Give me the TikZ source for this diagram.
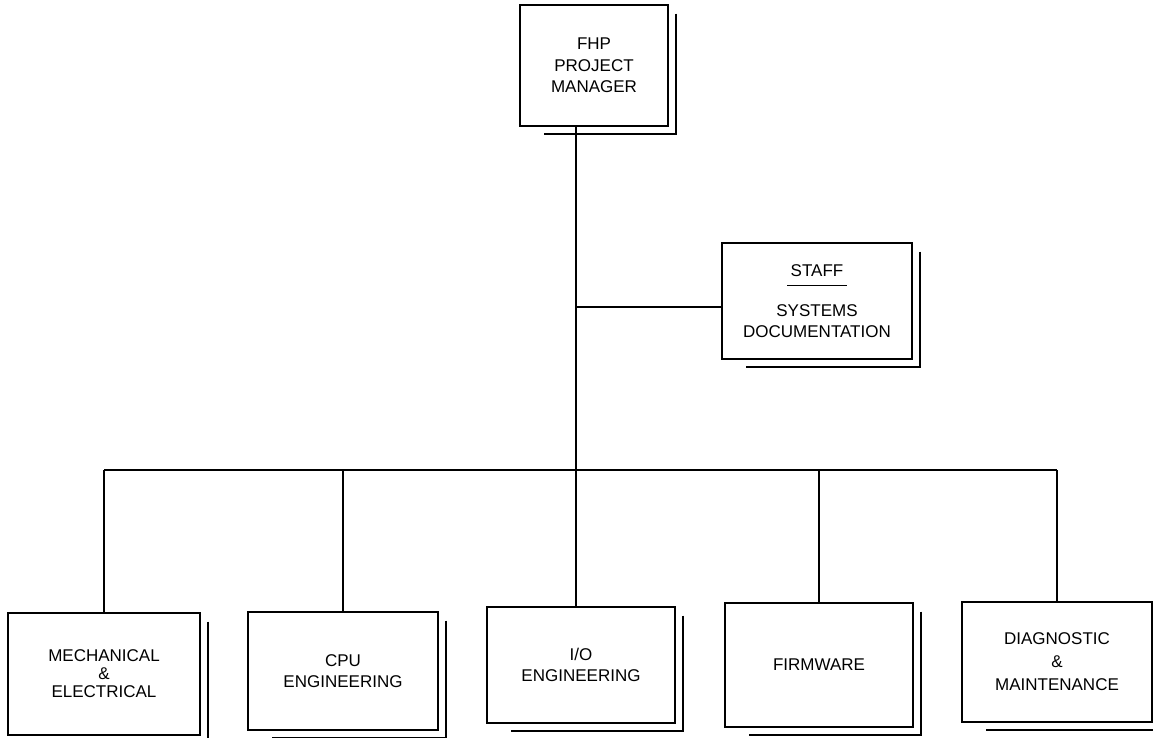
\documentclass[tikz,border=0pt]{standalone}
\usepackage{fontspec}
\setmainfont{Liberation Sans}
\tikzset{
  orgbox/.style={draw, line width=2.6pt, inner sep=0pt, align=center, font=\fontsize{17}{21.5}\selectfont},
  link/.style={line width=1.5pt},
  boxshade/.style={line width=1.9pt}
}
\newcommand\orgshadow[1]{%
  \draw[boxshade] ([shift={(7,10)}]#1.north east) -- ([shift={(7,7)}]#1.south east) -- ([shift={(25,7)}]#1.south west);}
\begin{document}
\begin{tikzpicture}[x=1pt,y=-1pt]
\useasboundingbox (0,0) rectangle (1153,738);
\node[orgbox, minimum width=148pt, minimum height=121pt] (pm) at (594,65.5) {FHP\\PROJECT\\MANAGER};
\node[orgbox, minimum width=190pt, minimum height=116pt] (staff) at (817,301) {STAFF\\[-11.5pt]\rule{60pt}{1.4pt}\\[8.5pt]SYSTEMS\\DOCUMENTATION};
\node[orgbox, minimum width=192pt, minimum height=122pt, font=\fontsize{17}{18}\selectfont] (mech) at (104,674) {MECHANICAL\\\&\\ELECTRICAL};
\node[orgbox, minimum width=190pt, minimum height=118pt] (cpu) at (343,671) {CPU\\ENGINEERING};
\node[orgbox, minimum width=188pt, minimum height=116pt] (io) at (581,665) {I/O\\ENGINEERING};
\node[orgbox, minimum width=188pt, minimum height=124pt] (fw) at (819,665) {FIRMWARE};
\node[orgbox, minimum width=190pt, minimum height=120pt, font=\fontsize{17}{23}\selectfont] (diag) at (1057,662) {DIAGNOSTIC\\\&\\MAINTENANCE};
\foreach \b in {pm,staff,mech,cpu,io,fw,diag} {\orgshadow{\b}}
\coordinate (trunk) at (576,470);
\draw[link] (pm.south -| trunk) -- (io.north -| trunk);
\draw[link] ([yshift=-6pt]staff.west) -- ([yshift=-6pt]staff.west -| trunk);
\draw[link] (mech.north |- trunk) -- (diag.north |- trunk);
\foreach \b in {mech,cpu,fw,diag} {\draw[link] (\b.north) -- (\b.north |- trunk);}
\end{tikzpicture}
\end{document}
